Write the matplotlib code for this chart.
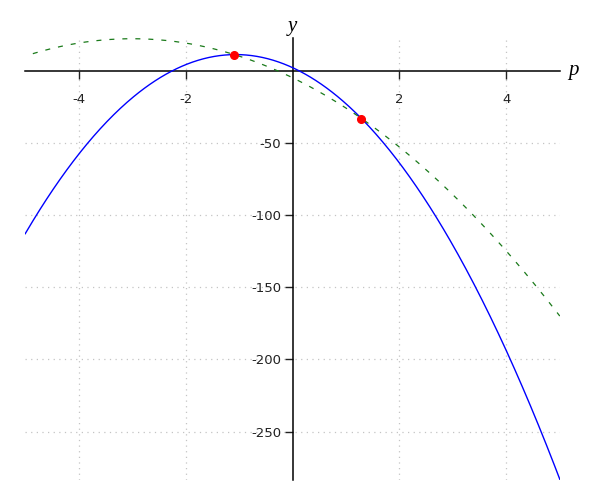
import numpy as np
import matplotlib
matplotlib.use("Agg")
from matplotlib import pyplot as plt

# quadratic coefficients (highest power first)
blue_coef = [-8, -17, 2]
green_coef = [-3, -18, -5]

# intersection points (red dots)
pts_p = [-1.09, 1.29]
pts_y = [10.8, -33.4]

p_range = [-5, 5]
x_ticks = [-4, -2, 2, 4]
y_ticks = [-50, -100, -150, -200, -250]

plt.rcParams['axes.unicode_minus'] = False

fig = plt.figure(figsize=(6, 5), dpi=100)
ax = fig.add_axes([0.042, 0.04, 0.891, 0.884])

p = np.linspace(p_range[0], p_range[1], 400)
yb = np.polyval(blue_coef, p)
yg = np.polyval(green_coef, p)

ax.plot(p, yb, color='blue', lw=1.0, zorder=3)
ax.plot(p, yg, color='#1a7a1a', lw=0.9, ls=(4, (4, 6.4)), zorder=3)
ax.plot(pts_p, pts_y, 'o', color='red', ms=5.5, zorder=4)

ax.set_xlim(p_range)
ax.set_ylim(-283.5, 22.5)

# axes through the origin
ax.spines['left'].set_position(('data', 0))
ax.spines['bottom'].set_position(('data', 0))
ax.spines['right'].set_visible(False)
ax.spines['top'].set_visible(False)
for s in ('left', 'bottom'):
    ax.spines[s].set_linewidth(1.1)

ax.set_xticks(x_ticks)
ax.set_yticks(y_ticks)
ax.tick_params(axis='x', direction='out', length=6, width=1, pad=10, labelsize=9.5, colors='#222222')
ax.tick_params(axis='y', direction='out', length=6, width=1, pad=2, labelsize=9.5, colors='#222222')
ax.grid(True, ls=(0, (1, 3.5)), color='#c4c4c4', lw=0.9)

serif = dict(family='Liberation Serif', style='italic', fontsize=15)
ax.text(5.15, 0, 'p', va='center', ha='left', **serif)
ax.text(0, 24, 'y', va='bottom', ha='center', **serif)

fig.savefig('out.png', dpi=100)
